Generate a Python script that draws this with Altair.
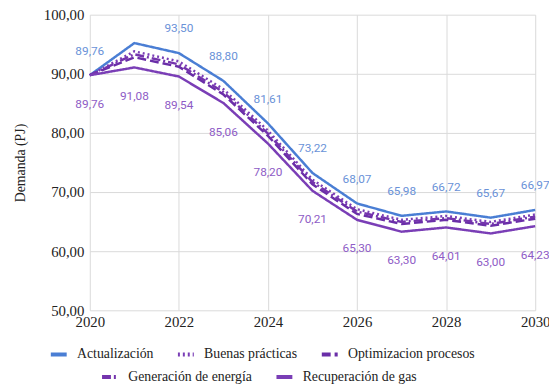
import altair as alt
import pandas as pd

years = list(range(2020, 2031))
actualizacion = [89.76, 95.20, 93.50, 88.80, 81.61, 73.22, 68.07, 65.98, 66.72, 65.67, 66.97]
buenas = [89.76, 93.80, 92.10, 87.40, 80.40, 72.10, 67.10, 65.30, 65.95, 64.95, 66.20]
optimizacion = [89.76, 92.80, 91.20, 86.50, 79.50, 71.30, 66.30, 64.60, 65.30, 64.30, 65.50]
generacion = [89.76, 93.30, 91.60, 86.90, 79.90, 71.70, 66.70, 64.95, 65.60, 64.60, 65.85]
recuperacion = [89.76, 91.08, 89.54, 85.06, 78.20, 70.21, 65.30, 63.30, 64.01, 63.00, 64.23]

names_a = ["Actualización", "Buenas prácticas", "Optimizacion procesos"]
names_b = ["Generación de energía", "Recuperación de gas"]
colors_a = ["#4a7ed4", "#7a3eb6", "#6a2ea8"]
colors_b = ["#7434ad", "#7a3eb6"]
dash_a = [[1, 0], [2, 3], [9, 4]]
dash_b = [[9, 3, 2, 3], [1, 0]]

def long(names, series):
    rows = []
    for n, s in zip(names, series):
        for y, v in zip(years, s):
            rows.append({"year": y, "value": v, "serie": n})
    return pd.DataFrame(rows)

df_a = long(names_a, [actualizacion, buenas, optimizacion]).rename(columns={"serie": "grupo1"})
df_b = long(names_b, [generacion, recuperacion]).rename(columns={"serie": "grupo2"})

lab_top = pd.DataFrame({"year": years, "value": actualizacion})
lab_top = lab_top[lab_top.year != 2021]
lab_top["txt"] = lab_top.value.map(lambda v: f"{v:.2f}".replace(".", ","))
lab_bot = pd.DataFrame({"year": years, "value": recuperacion})
lab_bot["txt"] = lab_bot.value.map(lambda v: f"{v:.2f}".replace(".", ","))

serif = "Times New Roman, Liberation Serif, DejaVu Serif, Noto Serif, serif"
sans = "Roboto"

x_enc = alt.X("year:Q", scale=alt.Scale(domain=[2020, 2030], nice=False),
              axis=alt.Axis(values=list(range(2020, 2031, 2)), format="d", title=None,
                            labelPadding=4, labelFlush=False))
y_enc = alt.Y("value:Q", scale=alt.Scale(domain=[50, 100], nice=False),
              axis=alt.Axis(values=list(range(50, 101, 5)),
                            labelExpr="datum.value % 10 == 0 ? replace(format(datum.value, '.2f'), '.', ',') : ''",
                            title="Demanda (PJ)", titlePadding=16, labelPadding=6))

def leg(x, y):
    return alt.Legend(title=None, orient="none", legendX=x, legendY=y, direction="horizontal")

lines_a = alt.Chart(df_a).mark_line(strokeWidth=2.5).encode(
    x=x_enc, y=y_enc,
    color=alt.Color("grupo1:N", scale=alt.Scale(domain=names_a, range=colors_a), legend=leg(-42, 334)),
    strokeDash=alt.StrokeDash("grupo1:N", scale=alt.Scale(domain=names_a, range=dash_a), legend=leg(-42, 334)),
)
lines_b = alt.Chart(df_b).mark_line(strokeWidth=2.5).encode(
    x=alt.X("year:Q"), y=alt.Y("value:Q"),
    color=alt.Color("grupo2:N", scale=alt.Scale(domain=names_b, range=colors_b), legend=leg(10, 357)),
    strokeDash=alt.StrokeDash("grupo2:N", scale=alt.Scale(domain=names_b, range=dash_b), legend=leg(10, 357)),
)
text_top = alt.Chart(lab_top).mark_text(font=sans, fontSize=12, dy=-25, color="#6a92d8").encode(
    x="year:Q", y="value:Q", text="txt:N")
text_bot = alt.Chart(lab_bot).mark_text(font=sans, fontSize=12, dy=29, color="#8e5cc6").encode(
    x="year:Q", y="value:Q", text="txt:N")

chart = alt.layer(lines_a, lines_b, text_top, text_bot).resolve_scale(
    color="independent", strokeDash="independent"
).properties(
    width=452, height=300,
    padding={"left": 83, "top": 4, "right": 14, "bottom": 72},
    autosize=alt.AutoSizeParams(type="none"),
).configure_view(stroke=None).configure_axis(
    labelFont=serif, labelFontSize=15, labelColor="#222", ticks=False, domain=False,
    gridColor="#d9d9d9", titleFont=serif, titleFontSize=14, titleFontWeight="normal",
    titleColor="#222",
).configure_legend(
    symbolType="stroke", symbolStrokeWidth=4, symbolSize=260,
    labelFont=serif, labelFontSize=14, labelColor="#222",
    columnPadding=16, labelOffset=8,
)

chart.save("out.html", embed_options={"renderer": "svg", "actions": False})
